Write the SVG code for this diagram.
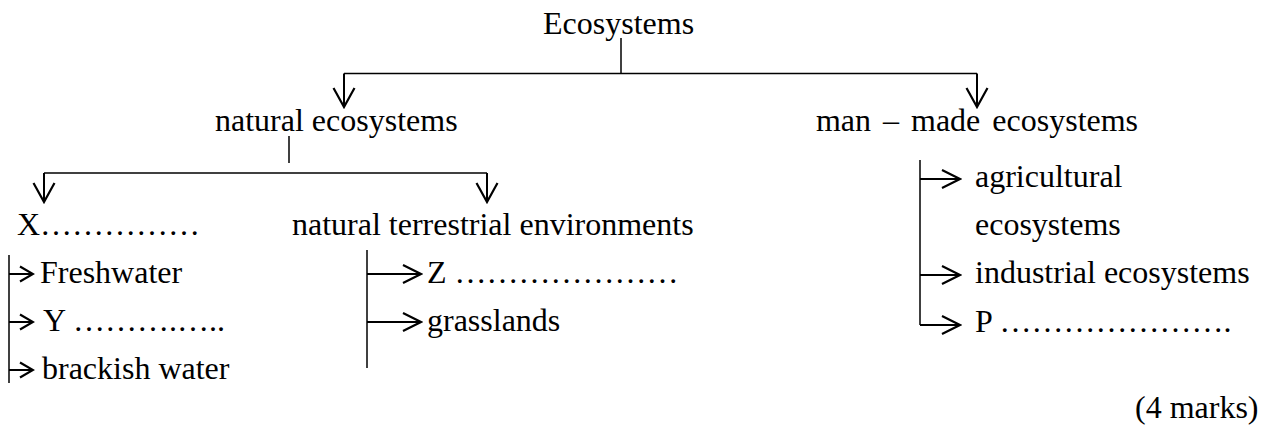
<svg xmlns="http://www.w3.org/2000/svg" width="1269" height="432" viewBox="0 0 1269 432">
  <style>
    text { font-family: 'Liberation Serif', Tinos, 'Times New Roman', Times, serif; font-size: 32px; fill: #000; }
    .ln { stroke: #000; stroke-width: 1.5; fill: none; }
    .ar { stroke: #000; stroke-width: 2; fill: none; }
  </style>
  <defs>
    <marker id="lg" markerUnits="userSpaceOnUse" markerWidth="22" markerHeight="24" viewBox="0 0 22 24" refX="20" refY="12" orient="auto">
      <path d="M1,1.5 L20,12 L1,22.5" fill="none" stroke="#000" stroke-width="2.2"/>
    </marker>
    <marker id="md" markerUnits="userSpaceOnUse" markerWidth="22" markerHeight="22" viewBox="0 0 22 22" refX="20" refY="11" orient="auto">
      <path d="M2,2 L20,11 L2,20" fill="none" stroke="#000" stroke-width="2.2"/>
    </marker>
    <marker id="sm" markerUnits="userSpaceOnUse" markerWidth="16" markerHeight="18" viewBox="0 0 16 18" refX="14" refY="9" orient="auto">
      <path d="M1,1.5 L14,9 L1,16.5" fill="none" stroke="#000" stroke-width="2.2"/>
    </marker>
  </defs>

  <g id="connectors">
    <line class="ln" x1="621" y1="38" x2="621" y2="73.5"/>
    <line class="ln" x1="344" y1="73.5" x2="977" y2="73.5"/>
    <line class="ar" x1="344" y1="73.5" x2="344" y2="107" marker-end="url(#lg)"/>
    <line class="ar" x1="977" y1="73.5" x2="977" y2="107" marker-end="url(#lg)"/>
    <line class="ln" x1="289" y1="136" x2="289" y2="163"/>
    <line class="ln" x1="44" y1="173" x2="487" y2="173"/>
    <line class="ar" x1="44" y1="173" x2="44" y2="202" marker-end="url(#lg)"/>
    <line class="ar" x1="487" y1="173" x2="487" y2="202" marker-end="url(#lg)"/>
    <line class="ln" x1="9" y1="255" x2="9" y2="383"/>
    <line class="ar" x1="9" y1="274" x2="33" y2="274" marker-end="url(#sm)"/>
    <line class="ar" x1="9" y1="322" x2="33" y2="322" marker-end="url(#sm)"/>
    <line class="ar" x1="9" y1="370" x2="33" y2="370" marker-end="url(#sm)"/>
    <line class="ln" x1="367" y1="250" x2="367" y2="368"/>
    <line class="ar" x1="367" y1="274" x2="421" y2="274" marker-end="url(#md)"/>
    <line class="ar" x1="367" y1="322" x2="421" y2="322" marker-end="url(#md)"/>
    <line class="ln" x1="920" y1="160" x2="920" y2="325"/>
    <line class="ar" x1="920" y1="179" x2="960" y2="179" marker-end="url(#md)"/>
    <line class="ar" x1="920" y1="275" x2="960" y2="275" marker-end="url(#md)"/>
    <line class="ar" x1="920" y1="325" x2="960" y2="325" marker-end="url(#md)"/>
  </g>

  <g id="ecosystems"><text x="543" y="34">Ecosystems</text></g>
  <g id="natural"><text x="215" y="131">natural ecosystems</text></g>
  <g id="manmade"><text x="977" y="131" text-anchor="middle" word-spacing="4">man – made ecosystems</text></g>
  <g id="x"><text x="17" y="235">X&#8230;&#8230;&#8230;&#8230;&#8230;</text></g>
  <g id="terrestrial"><text x="292" y="235">natural terrestrial environments</text></g>
  <g id="freshwater"><text x="40" y="283">Freshwater</text></g>
  <g id="y"><text x="43" y="331">Y &#8230;&#8230;&#8230;.&#8230;..</text></g>
  <g id="brackish"><text x="42" y="379">brackish water</text></g>
  <g id="z"><text x="427" y="283">Z &#8230;&#8230;&#8230;&#8230;&#8230;&#8230;&#8230;</text></g>
  <g id="grasslands"><text x="427" y="331">grasslands</text></g>
  <g id="agricultural"><text x="975" y="187">agricultural</text><text x="975" y="235">ecosystems</text></g>
  <g id="industrial"><text x="975" y="283">industrial ecosystems</text></g>
  <g id="p"><text x="975" y="332">P &#8230;&#8230;&#8230;&#8230;&#8230;&#8230;&#8230;.</text></g>
  <g id="marks"><text x="1135" y="418">(4 marks)</text></g>
</svg>
